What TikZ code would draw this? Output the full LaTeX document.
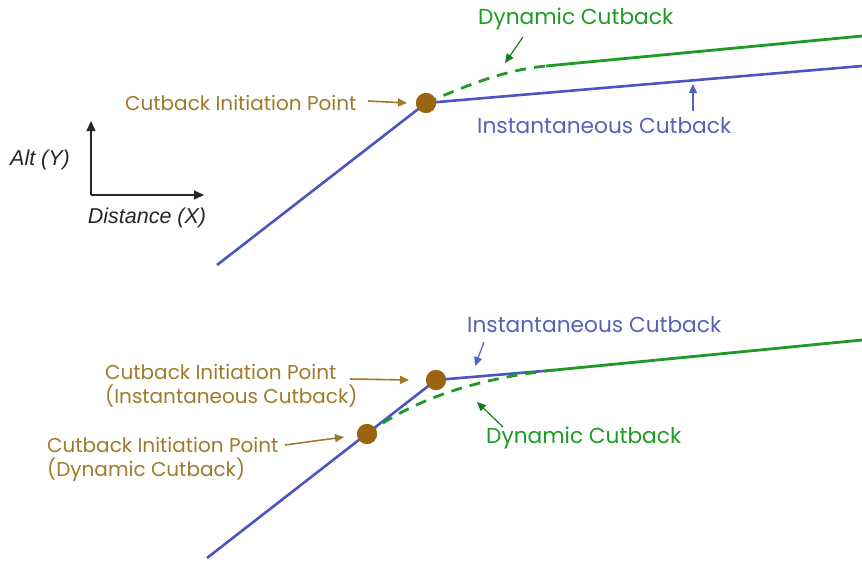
\documentclass[tikz,border=0pt]{standalone}
\usepackage{fontspec}
\setmainfont{Poppins}
\newfontfamily\axfont{Liberation Sans}
\usetikzlibrary{arrows.meta}
\definecolor{cblue}{HTML}{4A55C0}
\definecolor{tblue}{HTML}{5562B8}
\definecolor{cgreen}{HTML}{1F9A24}
\definecolor{cbrown}{HTML}{9A6410}
\definecolor{tbrown}{HTML}{A07A2A}
\tikzset{
  blueline/.style={cblue, line width=2.6pt},
  greenline/.style={cgreen, line width=2.8pt},
  greendash/.style={cgreen, line width=2.8pt, dash pattern=on 11pt off 8pt},
  ipoint/.style={circle, fill=cbrown, inner sep=0pt, minimum size=20pt},
  lbl/.style={font=\fontsize{20}{24}\selectfont, inner sep=0pt, align=left},
  lblb/.style={font=\fontsize{21.7}{25}\selectfont, inner sep=0pt, align=left},
  brownlbl/.style={lbl, text=tbrown},
  bluelbl/.style={lblb, text=tblue},
  greenlbl/.style={lblb, text=cgreen},
  tip/.style={-{Triangle[length=9pt,width=8pt]}, line width=1.6pt},
  axlbl/.style={font=\axfont\itshape\fontsize{21.5}{25}\selectfont, inner sep=0pt, text=black!85},
}
\begin{document}
\begin{tikzpicture}[x=1pt,y=-1pt]
\useasboundingbox (0,0) rectangle (862,565);
% ---------- top panel ----------
\coordinate (t0) at (217,265);
\coordinate (tb) at (862,66);
\coordinate (tgs) at (546,66);
\coordinate (tg) at (862,36);
\node[ipoint] (tp) at (426,103) {};
\draw[blueline] (t0) -- (tp.center) -- (tb);
\draw[greendash] (tp.center) .. controls (470,84) and (505,70) .. (tgs);
\draw[greenline] (tgs) -- (tg);
\node[ipoint] at (426,103) {};
\node[brownlbl, anchor=west] (tlbl) at (125,103) {Cutback Initiation Point};
\coordinate (ta1) at (368,101);
\coordinate (ta2) at (407,103);
\draw[tip, tbrown] (ta1) -- (ta2);
\node[greenlbl, anchor=west] (tdyn) at (478,19) {Dynamic Cutback};
\coordinate (tda1) at (523,37);
\coordinate (tda2) at (505,63);
\draw[tip, cgreen!80!black, line width=1.2pt] (tda1) -- (tda2);
\node[bluelbl, anchor=west] (tins) at (477,126) {Instantaneous Cutback};
\coordinate (tia1) at (693,111);
\coordinate (tia2) at (693,84);
\draw[tip, tblue, line width=1.2pt] (tia1) -- (tia2);
% axes
\coordinate (ax0) at (91,195);
\coordinate (axy) at (91,121);
\coordinate (axx) at (204,195);
\draw[black!85, line width=1.3pt, -{Triangle[length=10pt,width=9pt]}] (ax0) -- (axy);
\draw[black!85, line width=1.3pt, -{Triangle[length=10pt,width=9pt]}] (ax0) -- (axx);
\node[axlbl, anchor=west] (alt) at (10,160) {Alt (Y)};
\node[axlbl] (dist) at (147,218) {Distance (X)};
% ---------- bottom panel ----------
\coordinate (b0) at (207,558);
\node[ipoint] (bp1) at (436,380) {};
\node[ipoint] (bp2) at (367,434) {};
\coordinate (bj) at (555,370);
\coordinate (bg) at (862,340);
\draw[blueline] (b0) -- (bp1.center) -- (bj);
\draw[greendash] (bp2.center) .. controls (410,402) and (470,379) .. (bj);
\draw[greenline] (bj) -- (bg);
\node[ipoint] at (436,380) {};
\node[ipoint] at (367,434) {};
\node[brownlbl, anchor=west] (blbl1) at (105,386) {Cutback Initiation Point\\(Instantaneous Cutback)};
\coordinate (ba1) at (350,379);
\coordinate (ba2) at (409,380);
\draw[tip, tbrown] (ba1) -- (ba2);
\node[brownlbl, anchor=west] (blbl2) at (47,459) {Cutback Initiation Point\\(Dynamic Cutback)};
\coordinate (bb1) at (285,445);
\coordinate (bb2) at (344,437);
\draw[tip, tbrown] (bb1) -- (bb2);
\node[bluelbl, anchor=west] (bins) at (467,325) {Instantaneous Cutback};
\coordinate (bia1) at (484,342);
\coordinate (bia2) at (475,366);
\draw[tip, tblue, line width=1.2pt] (bia1) -- (bia2);
\node[greenlbl, anchor=west] (bdyn) at (486,438) {Dynamic Cutback};
\coordinate (bda1) at (503,427);
\coordinate (bda2) at (477,402);
\draw[tip, cgreen!80!black, line width=1.2pt] (bda1) -- (bda2);
\end{tikzpicture}
\end{document}
